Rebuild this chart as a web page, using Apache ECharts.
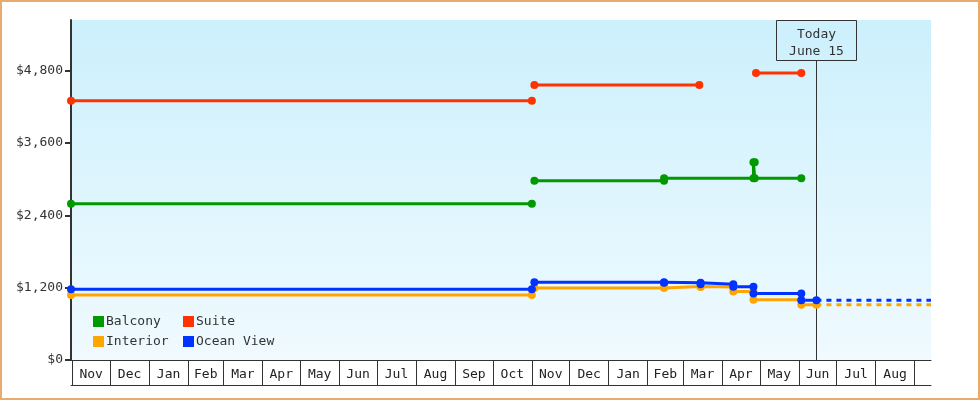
<!DOCTYPE html>
<html>
<head>
<meta charset="utf-8">
<script src="https://cdn.jsdelivr.net/npm/echarts@6/dist/echarts.min.js"></script>
<style>
  html, body { margin: 0; padding: 0; background: #fff; }
  #wrap { position: relative; width: 980px; height: 400px; }
  #chart { width: 980px; height: 400px; }
  #frame { position: absolute; left: 0; top: 0; width: 980px; height: 400px; box-sizing: border-box;
           border: 2px solid #e9ab6b; pointer-events: none; }
</style>
</head>
<body>
<div id="wrap"><div id="chart"></div><div id="frame"></div></div>
<script>
// ---- axis / tick data ----
const monthLabels = ['Nov','Dec','Jan','Feb','Mar','Apr','May','Jun','Jul','Aug','Sep','Oct',
                     'Nov','Dec','Jan','Feb','Mar','Apr','May','Jun','Jul','Aug'];
const firstMonthYear = 2021, firstMonthIndex = 10; // November 2021
const axisStart = '2021-10-31';
const axisEnd = '2023-09-14';
const yTicks = [0, 1200, 2400, 3600, 4800];
const yMax = 5640;

// ---- today marker ----
const today = '2023-06-15';
const todayLabel = 'Today\nJune 15';

// ---- series names ----
const seriesNames = ['Balcony', 'Suite', 'Interior', 'Ocean View'];

// ---- price periods ----
const balconyFrom  = ['2021-10-31','2022-11-03','2023-02-14','2023-04-26','2023-04-27'];
const balconyTo    = ['2022-11-01','2023-02-14','2023-04-26','2023-04-27','2023-06-03'];
const balconyPrice = [2590, 2975, 3015, 3280, 3015];

const suiteFrom  = ['2021-10-31','2022-11-03','2023-04-28'];
const suiteTo    = ['2022-11-01','2023-03-14','2023-06-03'];
const suitePrice = [4300, 4560, 4760];

const cabinFrom = ['2021-10-31','2022-11-03','2023-02-14','2023-03-15','2023-04-10','2023-04-26','2023-06-03'];
const cabinTo   = ['2022-11-01','2023-02-14','2023-03-15','2023-04-10','2023-04-26','2023-06-03','2023-06-15'];
const interiorPrice = [1080, 1195, 1220, 1210, 1135, 1000, 915];
const oceanPrice    = [1175, 1290, 1280, 1255, 1215, 1105, 990];

const colors = { 'Balcony': '#009900', 'Suite': '#ff3300', 'Interior': '#ffa500', 'Ocean View': '#0033ff' };

// ---- build helpers ----
function parseDay(s) { const p = s.split('-').map(Number); return new Date(p[0], p[1] - 1, p[2]).getTime(); }
function periods(from, to, price) {
  const out = [];
  for (let i = 0; i < price.length; i++) {
    out.push([parseDay(from[i]), price[i]]);
    out.push([parseDay(to[i]), price[i]]);
    if (i < price.length - 1 && from[i + 1] !== to[i]) out.push([parseDay(to[i]), null]);
  }
  return out;
}

const monthStarts = [];
for (let i = 0; i <= monthLabels.length; i++) {
  monthStarts.push(new Date(firstMonthYear, firstMonthIndex + i, 1).getTime());
}
const monthMids = [];
const midLabel = {};
for (let i = 0; i < monthLabels.length; i++) {
  const m = (monthStarts[i] + monthStarts[i + 1]) / 2;
  monthMids.push(m);
  midLabel[m] = monthLabels[i];
}

const FONT = 'DejaVu Sans Mono';

function lineSeries(name, data, dashed) {
  return {
    type: 'line', name: name, data: data,
    symbol: dashed ? 'none' : 'circle', symbolSize: 8, showAllSymbol: true,
    connectNulls: false,
    lineStyle: { width: 3, color: colors[name], type: dashed ? [5, 5] : 'solid' },
    itemStyle: { color: colors[name], borderWidth: 0 },
    emphasis: { disabled: true },
    z: 3
  };
}

const series = [
  lineSeries('Balcony', periods(balconyFrom, balconyTo, balconyPrice)),
  lineSeries('Suite', periods(suiteFrom, suiteTo, suitePrice)),
  lineSeries('Interior', periods(cabinFrom, cabinTo, interiorPrice)),
  lineSeries('Ocean View', periods(cabinFrom, cabinTo, oceanPrice)),
  lineSeries('Interior', [[parseDay(today), interiorPrice[interiorPrice.length - 1]], [parseDay(axisEnd), interiorPrice[interiorPrice.length - 1]]], true),
  lineSeries('Ocean View', [[parseDay(today), oceanPrice[oceanPrice.length - 1]], [parseDay(axisEnd), oceanPrice[oceanPrice.length - 1]]], true),
  {
    type: 'custom', name: 'todayMarker', silent: true, z: 1,
    data: [[parseDay(today), 0]],
    renderItem: function (params, api) {
      const x = Math.round(api.coord([api.value(0), 0])[0]) + 0.5;
      const cs = params.coordSys;
      const top = Math.round(cs.y) + 0.5;
      const bottom = cs.y + cs.height;
      return {
        type: 'group',
        children: [
          { type: 'line', shape: { x1: x, y1: top + 40, x2: x, y2: bottom }, style: { stroke: '#333', lineWidth: 1 } },
          { type: 'rect', shape: { x: x - 40, y: top, width: 80, height: 40 }, style: { fill: 'none', stroke: '#333', lineWidth: 1 } },
          { type: 'text', style: { x: x, y: top + 22.5, text: todayLabel, font: '13px "' + FONT + '"', fill: '#333',
              align: 'center', verticalAlign: 'middle', lineHeight: 17 } }
        ]
      };
    }
  }
];

const legendCommon = {
  orient: 'vertical', top: 315, itemGap: 7, padding: 0,
  icon: 'rect', itemWidth: 11, itemHeight: 11, itemStyle: { borderWidth: 0 },
  textStyle: { fontFamily: FONT, fontSize: 13, color: '#333', padding: [0, 0, 0, -3] }, selectedMode: false
};

const chart = echarts.init(document.getElementById('chart'));
chart.setOption({
  animation: false,
  textStyle: { fontFamily: FONT },
  grid: {
    left: 71, right: 49, top: 20, bottom: 40, show: true, borderWidth: 0,
    backgroundColor: { type: 'linear', x: 0, y: 0, x2: 0, y2: 1,
      colorStops: [{ offset: 0, color: '#ccf0fc' }, { offset: 1, color: '#f0faff' }] }
  },
  legend: [
    Object.assign({}, legendCommon, { data: [seriesNames[0], seriesNames[2]], left: 93 }),
    Object.assign({}, legendCommon, { data: [seriesNames[1], seriesNames[3]], left: 183 })
  ],
  xAxis: [
    {
      type: 'value', min: parseDay(axisStart), max: parseDay(axisEnd),
      axisLine: { show: true, lineStyle: { color: '#333', width: 1 } },
      axisTick: { show: true, length: 25, customValues: monthStarts, lineStyle: { color: '#333', width: 1 } },
      axisLabel: { show: true, customValues: monthMids, margin: 8, hideOverlap: false,
        fontFamily: FONT, fontSize: 13, color: '#222',
        formatter: function (v) { return midLabel[v] || ''; } },
      splitLine: { show: false }
    },
    {
      type: 'value', min: parseDay(axisStart), max: parseDay(axisEnd), position: 'bottom', offset: 25,
      axisLine: { show: true, lineStyle: { color: '#333', width: 1 } },
      axisTick: { show: false }, axisLabel: { show: false }, splitLine: { show: false }
    }
  ],
  yAxis: {
    type: 'value', min: 0, max: yMax, interval: 1200,
    axisLine: { show: true, lineStyle: { color: '#333', width: 2 } },
    axisTick: { show: true, length: 6, customValues: yTicks, lineStyle: { color: '#333', width: 2 } },
    axisLabel: { customValues: yTicks, margin: 8, fontFamily: FONT, fontSize: 13, color: '#333',
      formatter: function (v) { return '$' + v.toLocaleString('en-US'); } },
    splitLine: { show: false }
  },
  series: series
});
</script>
</body>
</html>
